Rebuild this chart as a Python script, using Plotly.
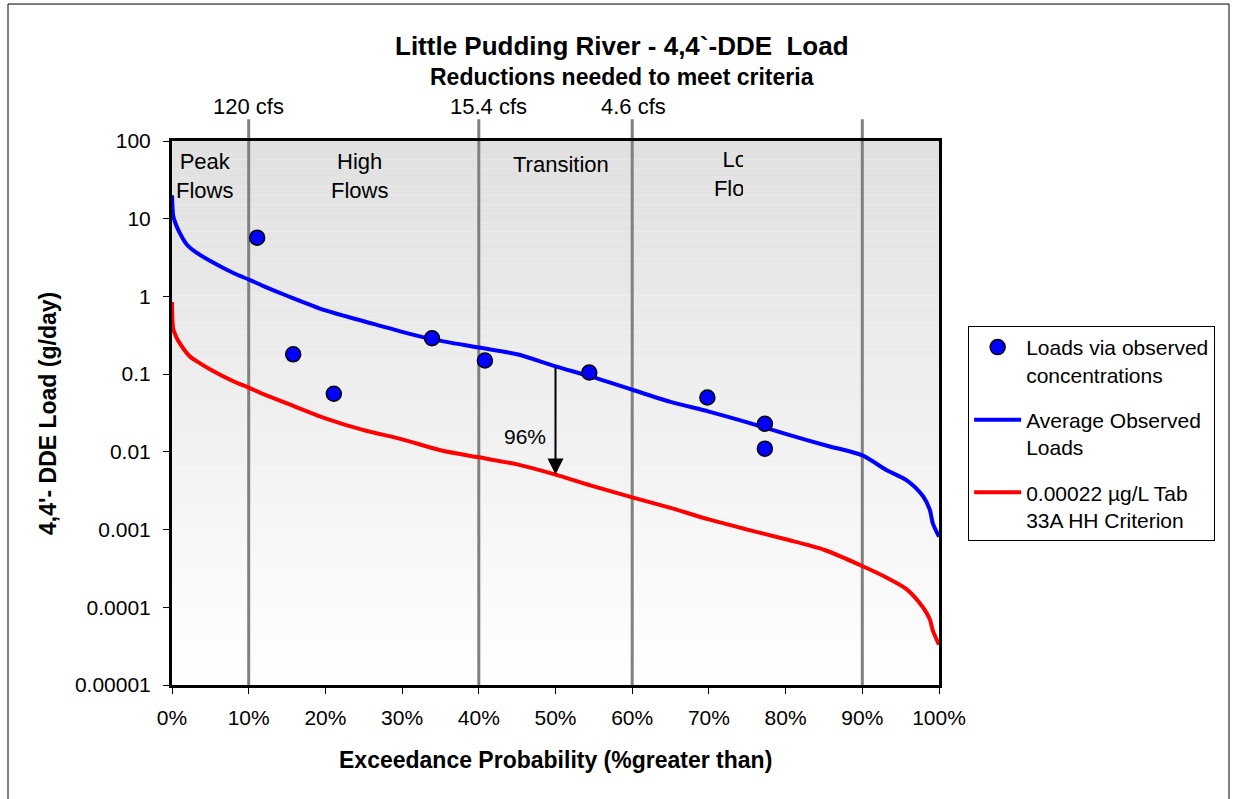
import math
import plotly.graph_objects as go

# ---- data -------------------------------------------------------------
# Load duration curve: average observed loads (g/day) vs exceedance probability (%)
avg_pct = [0, 0.17, 0.5, 1.0, 1.9, 3.2, 5, 8, 10, 12, 15, 20, 25, 30, 34, 40, 45,
           50, 55, 60, 65, 70, 75, 80, 85.4, 90, 93.2, 95.8, 97.9, 98.8, 99.2, 100]
avg_load = [20, 10.8, 8.5, 6.6, 4.7, 3.65, 2.85, 2.0, 1.65, 1.35, 1.02, 0.66,
            0.48, 0.35, 0.28, 0.22, 0.18, 0.126, 0.091, 0.063, 0.044, 0.033,
            0.024, 0.017, 0.012, 0.009, 0.0058, 0.0043, 0.0027, 0.0018, 0.0012,
            0.00081]

# Criterion load curve (0.00022 ug/L Tab 33A HH criterion)
crit_pct = [0, 0.17, 0.5, 0.8, 2.3, 3.2, 5, 8, 10, 12, 15, 20, 25, 30, 35, 40,
            45, 50, 55, 60, 65, 70, 75, 80, 85, 89.7, 93.2, 95.8, 97.9, 98.8,
            99.2, 100]
crit_load = [0.85, 0.38, 0.31, 0.27, 0.17, 0.147, 0.115, 0.081, 0.067, 0.055,
             0.042, 0.027, 0.019, 0.0145, 0.0105, 0.0085, 0.0069, 0.0051, 0.0036,
             0.0026, 0.0019, 0.00135, 0.001, 0.00075, 0.00055, 0.00035, 0.00024,
             0.00017, 0.0001, 0.00007, 0.00005, 0.000033]

# Loads computed from observed concentrations
obs_pct = [11.1, 15.8, 21.1, 33.9, 40.8, 54.4, 69.8, 77.3, 77.3]
obs_load = [5.7, 0.18, 0.056, 0.29, 0.15, 0.105, 0.050, 0.023, 0.011]

# Flow regime boundaries and labels
zone_bounds = [10, 40, 60, 90]
zone_names = ["Peak<br>Flows", "High<br>Flows", "Transition"]
zone_centers = [4.2, 24.4, 50.7]
zone_rows = [0.936, 0.936, 0.956]
low_name = "Low<br>Flows"
low_center = 74.4
flow_labels = ["120 cfs", "15.4 cfs", "4.6 cfs"]
flow_label_pct = [10, 41.2, 60.2]

y_tickvals = [1e-5, 1e-4, 1e-3, 1e-2, 1e-1, 1, 10, 100]
y_ticktext = ["0.00001", "0.0001", "0.001", "0.01", "0.1", "1", "10", "100"]
x_tickvals = list(range(0, 101, 10))
x_ticktext = [f"{v}%" for v in x_tickvals]

# Reduction arrow at the median flow
arrow_pct = 50
arrow_top = avg_load[avg_pct.index(arrow_pct)]
arrow_bottom = crit_load[crit_pct.index(arrow_pct)]
reduction = round(100 * (1 - arrow_bottom / arrow_top))

FONT = "Arial, Liberation Sans, sans-serif"

# ---- figure -----------------------------------------------------------
fig = go.Figure()

fig.add_trace(go.Scatter(
    x=crit_pct, y=crit_load, mode="lines",
    name="0.00022 µg/L Tab<br>33A HH Criterion",
    line=dict(color="#ff0000", width=4, shape="spline", smoothing=0.8),
    legendgroup="c", legendrank=3))

fig.add_trace(go.Scatter(
    x=avg_pct, y=avg_load, mode="lines",
    name="Average Observed<br>Loads",
    line=dict(color="#0000ff", width=4, shape="spline", smoothing=0.8),
    legendgroup="b", legendrank=2))

fig.add_trace(go.Scatter(
    x=obs_pct, y=obs_load, mode="markers",
    name="Loads via observed<br>concentrations",
    marker=dict(color="#0000ff", size=15, line=dict(color="black", width=1.5)),
    legendgroup="a", legendrank=1))

# "Low Flows" label, clipped at its own narrow subplot edge
fig.add_trace(go.Scatter(
    x=[low_center], y=[0.936], mode="text", text=[low_name],
    textfont=dict(family=FONT, size=22, color="black"),
    xaxis="x2", yaxis="y2", showlegend=False, cliponaxis=True,
    hoverinfo="skip"))

# ---- shapes: gradient background, zone lines, outer border ------------
shapes = []
n_bands = 60
for i in range(n_bands):
    t = i / (n_bands - 1)
    g = int(round(224 + (255 - 224) * t))
    shapes.append(dict(
        type="rect", xref="x domain", yref="y domain",
        x0=0, x1=1, y0=1 - (i + 1) / n_bands, y1=1 - i / n_bands,
        fillcolor=f"rgb({g},{g},{g})", line=dict(width=0), layer="below"))

for xb in zone_bounds:
    shapes.append(dict(
        type="line", xref="x", yref="paper", x0=xb, x1=xb, y0=0, y1=1.04,
        line=dict(color="#808080", width=3), layer="below"))

shapes.append(dict(
    type="rect", xref="paper", yref="paper",
    x0=-0.2138, x1=1.3781, y0=-0.25, y1=1.2518,
    line=dict(color="black", width=1), fillcolor="rgba(0,0,0,0)", layer="below"))

# ---- annotations ------------------------------------------------------
def label(text, x, y, size, xref="paper", yref="paper", **kw):
    return dict(text=text, xref=xref, yref=yref, x=x, y=y, showarrow=False,
                xanchor=kw.pop("xanchor", "center"),
                yanchor=kw.pop("yanchor", "middle"),
                font=dict(family=FONT, size=size, color="black"), **kw)

ann = []
ann.append(label("<b>Little Pudding River - 4,4`-DDE &nbsp;Load</b>",
                 0.5867, 1.1746, 26))
ann.append(label("<b>Reductions needed to meet criteria</b>",
                 0.5867, 1.1176, 23))
for lbl, xp in zip(flow_labels, flow_label_pct):
    ann.append(label(lbl, xp, 1.0643, 22, xref="x"))
for lbl, xp, yp in zip(zone_names, zone_centers, zone_rows):
    ann.append(label(lbl, xp, yp, 22, xref="x"))

# reduction arrow from the observed curve down to the criterion curve
ann.append(dict(x=arrow_pct, y=math.log10(arrow_bottom),
                ax=arrow_pct, ay=math.log10(arrow_top),
                xref="x", yref="y", axref="x", ayref="y", text="",
                showarrow=True, arrowhead=2, arrowsize=1.6, arrowwidth=2,
                arrowcolor="black", standoff=0, startstandoff=0))
ann.append(label(f"{reduction}%", 49.0, math.log10(0.0158), 21,
                 xref="x", yref="y", xanchor="right"))

# axis titles
ann.append(label("<b>Exceedance Probability (%greater than)</b>",
                 0.5, -0.1379, 23))
ann.append(label("<b>4,4'- DDE Load (g/day)</b>", -0.1617, 0.5, 23,
                 textangle=-90))

fig.update_layout(
    width=1236, height=799,
    margin=dict(l=172, r=297, t=141, b=114),
    paper_bgcolor="white", plot_bgcolor="rgba(0,0,0,0)",
    font=dict(family=FONT, size=21, color="black"),
    shapes=shapes, annotations=ann,
    showlegend=True,
    legend=dict(x=1.038, y=0.66, xanchor="left", yanchor="top",
                bgcolor="white", bordercolor="black", borderwidth=1,
                font=dict(family=FONT, size=21, color="black"),
                valign="top", tracegroupgap=15, traceorder="grouped",
                itemwidth=47),
    xaxis=dict(range=[0, 100], tickvals=x_tickvals, ticktext=x_ticktext,
               showgrid=False, zeroline=False, showline=True, linewidth=3,
               linecolor="black", mirror=True, ticks="outside", ticklen=6,
               tickwidth=1, tickcolor="black", ticklabelstandoff=6,
               tickfont=dict(family=FONT, size=21)),
    yaxis=dict(type="log", range=[-5, 2], tickvals=y_tickvals,
               ticktext=y_ticktext, showgrid=False, zeroline=False,
               showline=True, linewidth=3, linecolor="black", mirror=True,
               ticks="outside", ticklen=6, tickwidth=1, tickcolor="black",
               ticklabelstandoff=8, tickfont=dict(family=FONT, size=21)),
    xaxis2=dict(domain=[0, 0.7445], range=[0, 74.45], anchor="y2",
                visible=False, fixedrange=True),
    yaxis2=dict(domain=[0, 1], range=[0, 1], anchor="x2",
                visible=False, fixedrange=True),
)

fig.write_html("out.html")
